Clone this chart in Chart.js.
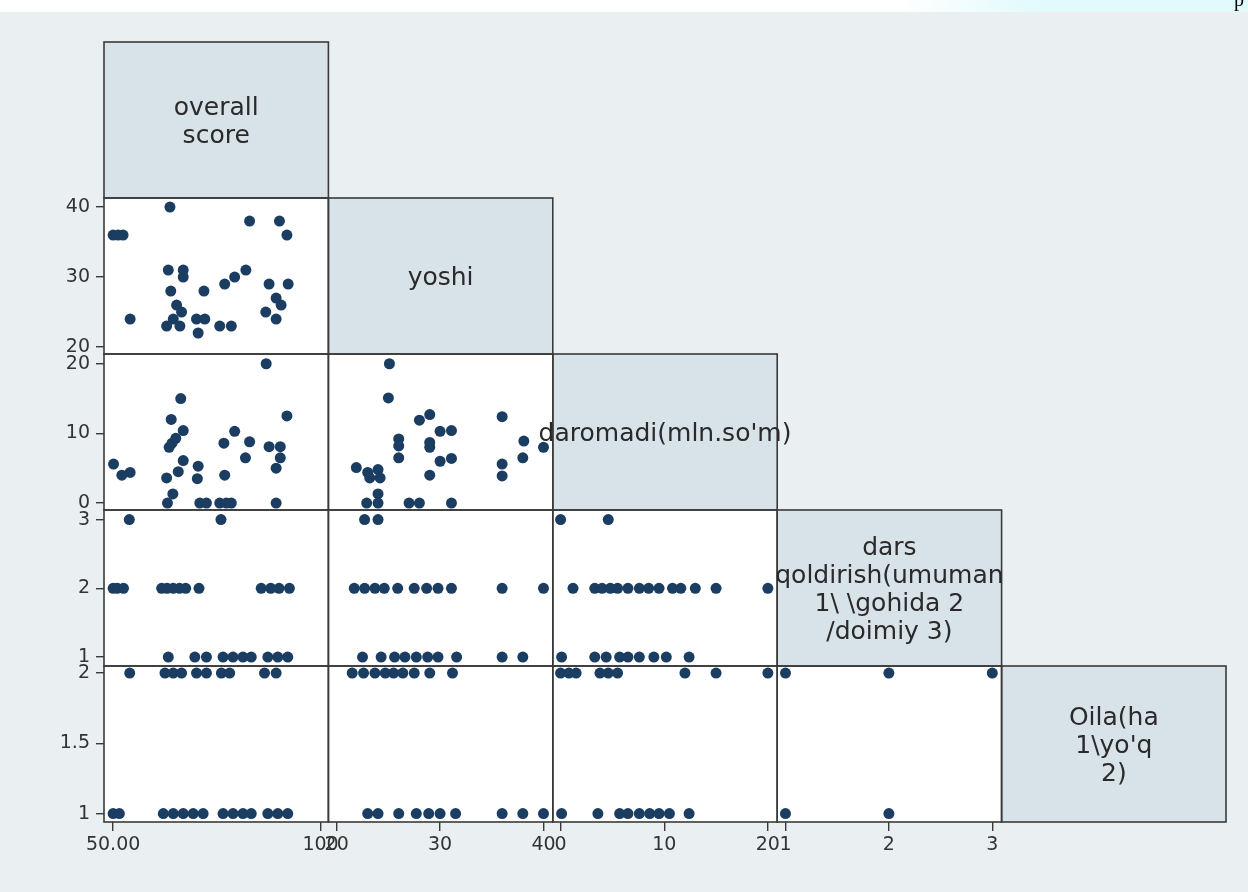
<!DOCTYPE html>
<html>
<head>
<meta charset="utf-8">
<script src="https://cdn.jsdelivr.net/npm/chart.js@4"></script>
<style>
  body { margin: 0; background: #ffffff; }
  canvas { display: block; }
</style>
</head>
<body>
<canvas id="matrixChart" width="1248" height="892"></canvas>
<script>
// variable names shown on the diagonal
var varLabels = [
    ['overall', 'score'],
    ['yoshi'],
    ["daromadi(mln.so'm)"],
    ['dars', 'qoldirish(umuman', '1\\ \\gohida 2', '/doimiy 3)'],
    ['Oila(ha', "1\\yo'q", '2)']
];

// axis ranges per variable (x = columns, y = rows)
var xMin = [47.8, 19.2, -0.75, 0.92, 0];
var xMax = [101.9, 40.9, 20.9, 3.09, 1];
var yMin = [0, 19.0, -1.0, 0.87, 0.94];
var yMax = [1, 41.3, 21.4, 3.14, 2.05];

// tick values
var xTicks = [[50, 100], [20, 30, 40], [0, 10, 20], [1, 2, 3], []];
var yTicks = [[], [20, 30, 40], [0, 10, 20], [1, 2, 3], [1, 1.5, 2]];

// overall score vs yoshi
var scoreYoshi = [[63.7,40],[82.9,38],[90.1,38],[91.9,36],[50,36],[51.2,36],[52.4,36],[63.3,31],[66.9,31],
    [66.9,30],[82,31],[79.3,30],[76.9,29],[87.6,29],[92.2,29],[63.9,28],[71.9,28],[65.3,26],[66.5,25],
    [89.3,27],[90.5,26],[86.8,25],[54.1,24],[64.5,24],[70.1,24],[72.1,24],[89.3,24],[62.9,23],[66.1,23],
    [75.7,23],[78.5,23],[70.5,22]];
// overall score vs daromadi
var scoreDar = [[86.9,20],[66.3,15],[64,12],[91.9,12.5],[66.9,10.4],[65.1,9.3],[63.5,8],[64.2,8.6],[79.3,10.3],
    [82.9,8.8],[76.7,8.6],[87.6,8.1],[90.3,8.1],[90.3,6.5],[81.9,6.5],[50.1,5.6],[66.9,6.1],[70.5,5.3],
    [52.1,4],[54.1,4.4],[65.7,4.5],[62.9,3.6],[70.3,3.5],[76.9,4],[89.3,5],[64.4,1.3],[63.1,0],[70.9,0],
    [72.5,0],[75.7,0],[77.3,0],[78.5,0],[89.3,0]];
// yoshi vs daromadi
var yoshiDar = [[25.1,20],[25,15.1],[28,11.9],[29,12.7],[36,12.4],[30,10.3],[31.1,10.4],[26,9.2],[26,8.2],
    [29,8.7],[29,8],[38.1,8.9],[40,8],[26,6.5],[30,6],[31.1,6.4],[38,6.5],[36,5.6],[36,3.9],[21.9,5.1],
    [23,4.4],[24,4.8],[24.2,3.6],[23.2,3.6],[29,4],[24,1.3],[22.9,0],[24,0],[27,0],[28,0],[31.1,0]];
// overall score vs dars qoldirish
var scoreDars = [[53.9,3],[76,3],
    [50,2],[51,2],[52.5,2],[61.7,2],[63,2],[64.5,2],[66,2],[67.5,2],[70.7,2],[85.7,2],[88,2],[90,2],[92.5,2],
    [63.3,1],[69.7,1],[72.5,1],[76.5,1],[78.9,1],[81.3,1],[83.3,1],[87.3,1],[89.7,1],[92.1,1]];
// yoshi vs dars qoldirish
var yoshiDars = [[22.7,3],[24,3],
    [21.7,2],[22.7,2],[23.7,2],[24.6,2],[25.9,2],[27.5,2],[28.7,2],[29.8,2],[31.1,2],[36,2],[40,2],
    [22.5,1],[24.3,1],[25.6,1],[26.6,1],[27.7,1],[28.8,1],[29.8,1],[31.6,1],[36,1],[38,1]];
// daromadi vs dars qoldirish
var darDars = [[0,3],[4.6,3],
    [1.2,2],[3.3,2],[4,2],[4.8,2],[5.5,2],[6.5,2],[7.6,2],[8.5,2],[9.5,2],[10.8,2],[11.6,2],[13,2],[15,2],[20,2],
    [0.1,1],[3.3,1],[4.4,1],[5.7,1],[6.5,1],[7.6,1],[9,1],[10.2,1],[12.4,1]];
// overall score vs oila
var scoreOila = [[54,2],[62.5,2],[64.5,2],[66.5,2],[70.1,2],[72.5,2],[76.1,2],[78.1,2],[86.5,2],[89.3,2],
    [50,1],[51.5,1],[62.1,1],[64.5,1],[66.9,1],[69.3,1],[71.7,1],[76.5,1],[78.9,1],[81.3,1],[83.3,1],
    [87.3,1],[89.7,1],[92.1,1]];
// yoshi vs oila
var yoshiOila = [[21.5,2],[22.6,2],[23.7,2],[24.7,2],[25.5,2],[26.4,2],[27.5,2],[29,2],[31.2,2],
    [23,1],[24,1],[26,1],[27.7,1],[28.9,1],[30,1],[31.5,1],[36,1],[38,1],[40,1]];
// daromadi vs oila
var darOila = [[0,2],[0.8,2],[1.5,2],[3.8,2],[4.6,2],[5.5,2],[12,2],[15,2],[20,2],
    [0.1,1],[3.6,1],[5.7,1],[6.5,1],[7.6,1],[8.6,1],[9.5,1],[10.5,1],[12.4,1]];
// dars qoldirish vs oila
var darsOila = [[1,2],[2,2],[3,2],[1,1],[2,1]];

var cells = [
    { data: scoreYoshi, col: 1, row: 2 },
    { data: scoreDar, col: 1, row: 3 },
    { data: yoshiDar, col: 2, row: 3 },
    { data: scoreDars, col: 1, row: 4 },
    { data: yoshiDars, col: 2, row: 4 },
    { data: darDars, col: 3, row: 4 },
    { data: scoreOila, col: 1, row: 5 },
    { data: yoshiOila, col: 2, row: 5 },
    { data: darOila, col: 3, row: 5 },
    { data: darsOila, col: 4, row: 5 }
];

var markerColor = '#1a3d61';
var lineColor = '#3a3a3a';
var pageColor = '#eaeff2';
var boxColor = '#d8e2e9';

Chart.defaults.font.family = '"DejaVu Sans", sans-serif';

function formatTick(value, axisIndex) {
    if (axisIndex == 0 && value == 50) return '50.00';
    return String(value);
}

function makeScales() {
    var scales = {};
    for (var i = 0; i < 5; i++) {
        (function (i) {
            var hasTicks = xTicks[i].length > 0;
            scales['x' + (i + 1)] = {
                type: 'linear',
                position: 'bottom',
                stack: 'cols',
                weight: i + 1,
                min: xMin[i],
                max: xMax[i],
                afterBuildTicks: function (scale) {
                    scale.ticks = xTicks[i].map(function (v) { return { value: v }; });
                },
                afterFit: function (scale) { scale.height = 40; },
                border: { display: false },
                grid: { display: hasTicks, drawOnChartArea: false, drawTicks: true, tickLength: 9, color: lineColor, lineWidth: 1.4 },
                ticks: {
                    display: hasTicks, autoSkip: false, maxRotation: 0, padding: 3, color: '#333333',
                    font: { size: 19 },
                    callback: function (value) { return formatTick(value, i); }
                }
            };
            hasTicks = yTicks[i].length > 0;
            scales['y' + (i + 1)] = {
                type: 'linear',
                position: 'left',
                stack: 'rows',
                weight: 5 - i,
                min: yMin[i],
                max: yMax[i],
                afterBuildTicks: function (scale) {
                    scale.ticks = yTicks[i].map(function (v) { return { value: v }; });
                },
                afterFit: function (scale) { scale.width = 104; },
                border: { display: false },
                grid: { display: hasTicks, drawOnChartArea: false, drawTicks: true, tickLength: 8, color: lineColor, lineWidth: 1.4 },
                ticks: {
                    display: hasTicks, autoSkip: false, padding: 6, color: '#333333',
                    font: { size: 19 },
                    callback: function (value) { return String(value); }
                }
            };
        })(i);
    }
    return scales;
}

function cellRect(chart, col, row) {
    var xs = chart.scales['x' + col];
    var ys = chart.scales['y' + row];
    return { left: xs.left, right: xs.right, top: ys.top, bottom: ys.bottom };
}

var matrixPlugin = {
    id: 'matrixPlugin',
    beforeDraw: function (chart) {
        var ctx = chart.ctx;
        ctx.save();
        ctx.fillStyle = '#ffffff';
        ctx.fillRect(0, 0, chart.width, 12);
        var grad = ctx.createLinearGradient(900, 0, 1040, 0);
        grad.addColorStop(0, 'rgba(225,250,252,0)');
        grad.addColorStop(1, 'rgba(225,250,252,1)');
        ctx.fillStyle = grad;
        ctx.fillRect(900, 0, chart.width - 900, 12);
        ctx.fillStyle = pageColor;
        ctx.fillRect(0, 12, chart.width, chart.height - 12);
        ctx.fillStyle = '#000000';
        ctx.font = '20px "Liberation Serif", serif';
        ctx.textAlign = 'left';
        ctx.textBaseline = 'alphabetic';
        ctx.save();
        ctx.beginPath();
        ctx.rect(0, 0, chart.width, 12);
        ctx.clip();
        ctx.fillText('p', 1234, 6);
        ctx.restore();
        for (var r = 1; r <= 5; r++) {
            for (var c = 1; c <= r; c++) {
                var rc = cellRect(chart, c, r);
                ctx.fillStyle = (c == r) ? boxColor : '#ffffff';
                ctx.fillRect(rc.left, rc.top, rc.right - rc.left, rc.bottom - rc.top);
            }
        }
        ctx.restore();
    },
    beforeDatasetsDraw: function (chart) {
        var ctx = chart.ctx;
        ctx.save();
        ctx.strokeStyle = lineColor;
        ctx.lineWidth = 1.6;
        for (var r = 1; r <= 5; r++) {
            for (var c = 1; c <= r; c++) {
                var rc = cellRect(chart, c, r);
                ctx.strokeRect(rc.left, rc.top, rc.right - rc.left, rc.bottom - rc.top);
            }
        }
        ctx.restore();
    },
    afterDatasetsDraw: function (chart) {
        var ctx = chart.ctx;
        ctx.save();
        ctx.fillStyle = '#2a2a2a';
        ctx.font = '25px "DejaVu Sans", sans-serif';
        ctx.textAlign = 'center';
        ctx.textBaseline = 'middle';
        var lineHeight = 28;
        for (var i = 0; i < 5; i++) {
            var rc = cellRect(chart, i + 1, i + 1);
            var cx = (rc.left + rc.right) / 2;
            var cy = (rc.top + rc.bottom) / 2 + 2;
            var lines = varLabels[i];
            var start = cy - (lines.length - 1) * lineHeight / 2;
            for (var k = 0; k < lines.length; k++) {
                ctx.fillText(lines[k], cx, start + k * lineHeight);
            }
        }
        ctx.restore();
    }
};

var datasets = cells.map(function (cell) {
    return {
        data: cell.data.map(function (p) { return { x: p[0], y: p[1] }; }),
        xAxisID: 'x' + cell.col,
        yAxisID: 'y' + cell.row,
        pointRadius: 5.5,
        pointBackgroundColor: markerColor,
        pointBorderColor: markerColor,
        pointBorderWidth: 0,
        showLine: false,
        clip: false
    };
});

var ctx = document.getElementById('matrixChart').getContext('2d');
var chart = new Chart(ctx, {
    type: 'scatter',
    data: { datasets: datasets },
    options: {
        responsive: false,
        animation: false,
        events: [],
        layout: { padding: { left: 0, top: 42, right: 22, bottom: 30 } },
        plugins: {
            legend: { display: false },
            tooltip: { enabled: false }
        },
        scales: makeScales()
    },
    plugins: [matrixPlugin]
});
</script>
</body>
</html>
